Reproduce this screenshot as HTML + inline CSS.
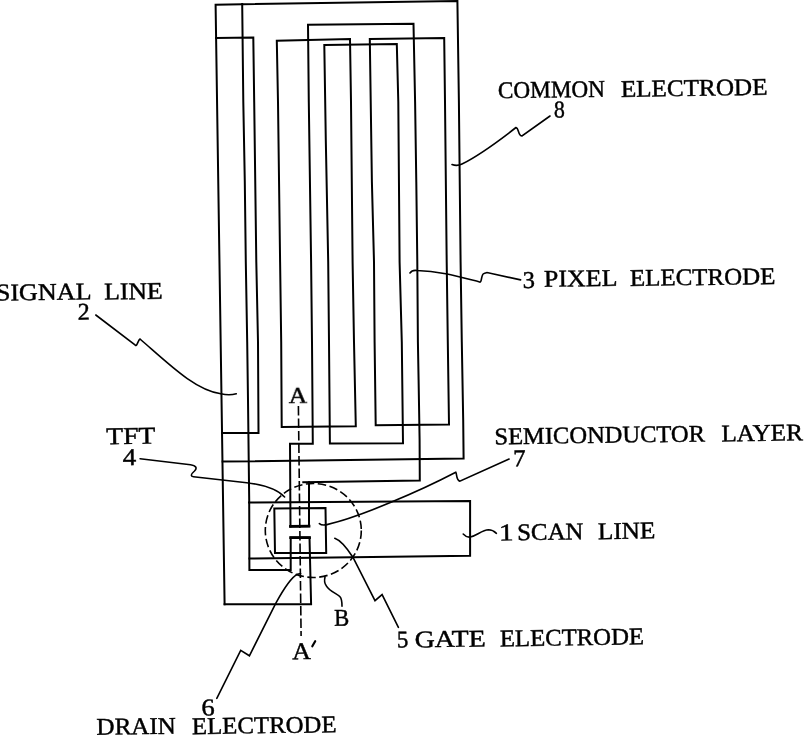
<!DOCTYPE html>
<html><head><meta charset="utf-8"><title>Pixel layout diagram</title>
<style>
html,body{margin:0;padding:0;background:#fff;}
body{width:804px;height:735px;overflow:hidden;}
svg{display:block;}
text{font-family:"Liberation Serif",serif;fill:#000;stroke:#000;stroke-width:0.45px;}
</style></head>
<body>
<svg width="804" height="735" viewBox="0 0 804 735">
<g fill="none" stroke="#000" stroke-width="2" stroke-linejoin="miter" stroke-linecap="square">
<path d="M224.6,604.3 L215.6,4.7 L242.2,4.2 L457.4,1 L458.9,102 L460.6,262 L461.8,342 L463.2,420 L463.6,458.4 L222.3,461.6"/>
<path d="M242.2,4 L243.3,102 L244.8,182 L245.8,262 L247.2,342 L248,400 L249.2,500 L249.4,570 L290.7,570 L290.7,537.6 L309.5,537.6 L311.1,604.3 L224.6,604.3"/>
<path d="M216,37.9 L253.3,37.5 L254.2,102 L256.3,262 L258,342 L258.5,433 L222,433"/>
<path d="M281.7,427 L281.2,342 L280.1,262 L278,102 L276.8,40.8 L350,39.1 L351,102 L352.6,262 L354,342 L355.8,426.2 Z"/>
<path d="M290.5,526.5 L290,443.7 L312.8,443.7 L312,342 L311.1,262 L308.8,102 L308,24.8 L413.5,23.7 L415.1,102 L416.3,182 L417.3,262 L417.9,342 L418.6,380 L419.6,440 L419.8,480.5 L303.3,482.2"/>
<path d="M309,482.2 L309,526.2 L290.5,526.5"/>
<path d="M290.5,526.4 L309,526.2 M290.7,537.6 L309.5,537.6" stroke-width="2.8"/>
<path d="M324.3,45 L396.8,44 L398.3,102 L399.6,262 L401.8,342 L403,443.3 L329.9,443.5 L329,342 L328.2,262 L325.8,140 Z"/>
<path d="M369.8,39.1 L444.2,38 L445,102 L446.7,262 L447.8,342 L449,424.6 L375.7,425.2 L374.6,342 L374,262 L371.9,182 Z"/>
<path d="M249,502.5 L470.1,501 L470.1,555.8 L249.5,558.6"/>
<path d="M274.3,508.4 L325.5,508 L326.2,553 L275,553 Z"/>
</g>
<g fill="none" stroke="#000" stroke-width="1.6">
<ellipse cx="313.3" cy="530.5" rx="48" ry="47" stroke-dasharray="8.5 3.5"/>
<path d="M298.4,406 L301.1,636" stroke-dasharray="9.5 3"/>
</g>
<g fill="none" stroke="#000" stroke-width="1.6" stroke-linecap="round">
<path d="M452,164.5 C456,166 458,166 462,164 C480,155 500,140 516,127.5 C519,128 518,136 522,136 L550,116"/>
<path d="M410,273 C412,270 414,270 417,270.5 C440,271 460,277 479.6,282 C482,283 481,274 484,273.5 L487,272.5 L520.6,279.9"/>
<path d="M95.8,315 L135.3,345.2 C137,347 138,340 140,339 C170,365 195,390 220.8,393.8 C226,395 232,395 236.3,393.8"/>
<path d="M140.1,458.7 L190.5,464.8 C196,465.5 197.5,468 194.5,471 C190.5,474.5 190.5,476.3 193.5,476.7 L246.7,482.7 C265,485 278,490 284.6,497"/>
<path d="M319.4,523.6 C321,525 324,525.3 327,524.6 C360,517 420,491 455.8,472.3 C457,474 456,480 459.8,481.2 L509.1,459.1"/>
<path d="M463.2,534 C466,537 468,537.5 470.3,537 C477,535.5 482,530 488.5,529.8 C492,529.8 494.5,531.5 496.4,533.3"/>
<path d="M334.8,538.2 C340,540 345,545 352.9,557.2 L375,600.7 L382.1,594.6 L398.4,627.3"/>
<path d="M325,577 C324,581 325,584 326.3,585.8 C330,592 338,594 340,596.7 C342,599 342,603 342,606.2"/>
<path d="M312.3,646.3 L315.2,641.2" stroke-width="2.2"/>
<path d="M216.8,698.3 L240.7,650.4 L249.4,655.8 L275.6,603.6 C283,590 290,578 297.4,574.2 L300.6,573.5"/>
</g>

<g font-size="24" style="will-change:transform">
<text x="498.1" y="98.3" textLength="106.9" lengthAdjust="spacingAndGlyphs" transform="rotate(-0.8 498.1 98.3)">COMMON</text>
<text x="620.9" y="96.9" textLength="146.7" lengthAdjust="spacingAndGlyphs" transform="rotate(-0.8 620.9 96.9)">ELECTRODE</text>
<text x="554.1" y="117.4" textLength="10.9" lengthAdjust="spacingAndGlyphs" transform="rotate(-0.8 554.1 117.4)">8</text>
<text x="522.7" y="288.0" textLength="12.3" lengthAdjust="spacingAndGlyphs" transform="rotate(-0.8 522.7 288.0)">3</text>
<text x="544.0" y="286.8" textLength="73.5" lengthAdjust="spacingAndGlyphs" transform="rotate(-0.8 544.0 286.8)">PIXEL</text>
<text x="630.0" y="286.0" textLength="145.4" lengthAdjust="spacingAndGlyphs" transform="rotate(-0.8 630.0 286.0)">ELECTRODE</text>
<text x="-4.1" y="300.6" textLength="95.7" lengthAdjust="spacingAndGlyphs" transform="rotate(-0.8 -4.1 300.6)">SIGNAL</text>
<text x="104.3" y="299.6" textLength="58.5" lengthAdjust="spacingAndGlyphs" transform="rotate(-0.8 104.3 299.6)">LINE</text>
<text x="77.7" y="319.7" textLength="12.1" lengthAdjust="spacingAndGlyphs" transform="rotate(-0.8 77.7 319.7)">2</text>
<text x="288.8" y="402.8" textLength="18.5" lengthAdjust="spacingAndGlyphs" transform="rotate(-0.8 288.8 402.8)">A</text>
<text x="106.3" y="444.2" textLength="49.2" lengthAdjust="spacingAndGlyphs" transform="rotate(-0.8 106.3 444.2)">TFT</text>
<text x="122.8" y="465.2" textLength="13.6" lengthAdjust="spacingAndGlyphs" transform="rotate(-0.8 122.8 465.2)">4</text>
<text x="494.5" y="444.4" textLength="210.7" lengthAdjust="spacingAndGlyphs" transform="rotate(-0.8 494.5 444.4)">SEMICONDUCTOR</text>
<text x="721.4" y="441.4" textLength="81.6" lengthAdjust="spacingAndGlyphs" transform="rotate(-0.8 721.4 441.4)">LAYER</text>
<text x="513.3" y="466.2" textLength="12.5" lengthAdjust="spacingAndGlyphs" transform="rotate(-0.8 513.3 466.2)">7</text>
<text x="498.9" y="540.4" textLength="14.7" lengthAdjust="spacingAndGlyphs" transform="rotate(-0.8 498.9 540.4)">1</text>
<text x="517.3" y="540.2" textLength="66.2" lengthAdjust="spacingAndGlyphs" transform="rotate(-0.8 517.3 540.2)">SCAN</text>
<text x="598.0" y="539.2" textLength="57.5" lengthAdjust="spacingAndGlyphs" transform="rotate(-0.8 598.0 539.2)">LINE</text>
<text x="334.3" y="625.7" textLength="15.1" lengthAdjust="spacingAndGlyphs" transform="rotate(-0.8 334.3 625.7)">B</text>
<text x="396.9" y="647.5" textLength="11.4" lengthAdjust="spacingAndGlyphs" transform="rotate(-0.8 396.9 647.5)">5</text>
<text x="414.7" y="647.4" textLength="71.2" lengthAdjust="spacingAndGlyphs" transform="rotate(-0.8 414.7 647.4)">GATE</text>
<text x="500.0" y="646.4" textLength="144.1" lengthAdjust="spacingAndGlyphs" transform="rotate(-0.8 500.0 646.4)">ELECTRODE</text>
<text x="292.2" y="659.2" textLength="18.7" lengthAdjust="spacingAndGlyphs" transform="rotate(-0.8 292.2 659.2)">A</text>
<text x="201.5" y="715.4" textLength="13.3" lengthAdjust="spacingAndGlyphs" transform="rotate(-0.8 201.5 715.4)">6</text>
<text x="96.5" y="734.8" textLength="79.5" lengthAdjust="spacingAndGlyphs" transform="rotate(-0.8 96.5 734.8)">DRAIN</text>
<text x="192.1" y="734.2" textLength="144.5" lengthAdjust="spacingAndGlyphs" transform="rotate(-0.8 192.1 734.2)">ELECTRODE</text>
</g>
</svg>
</body></html>
